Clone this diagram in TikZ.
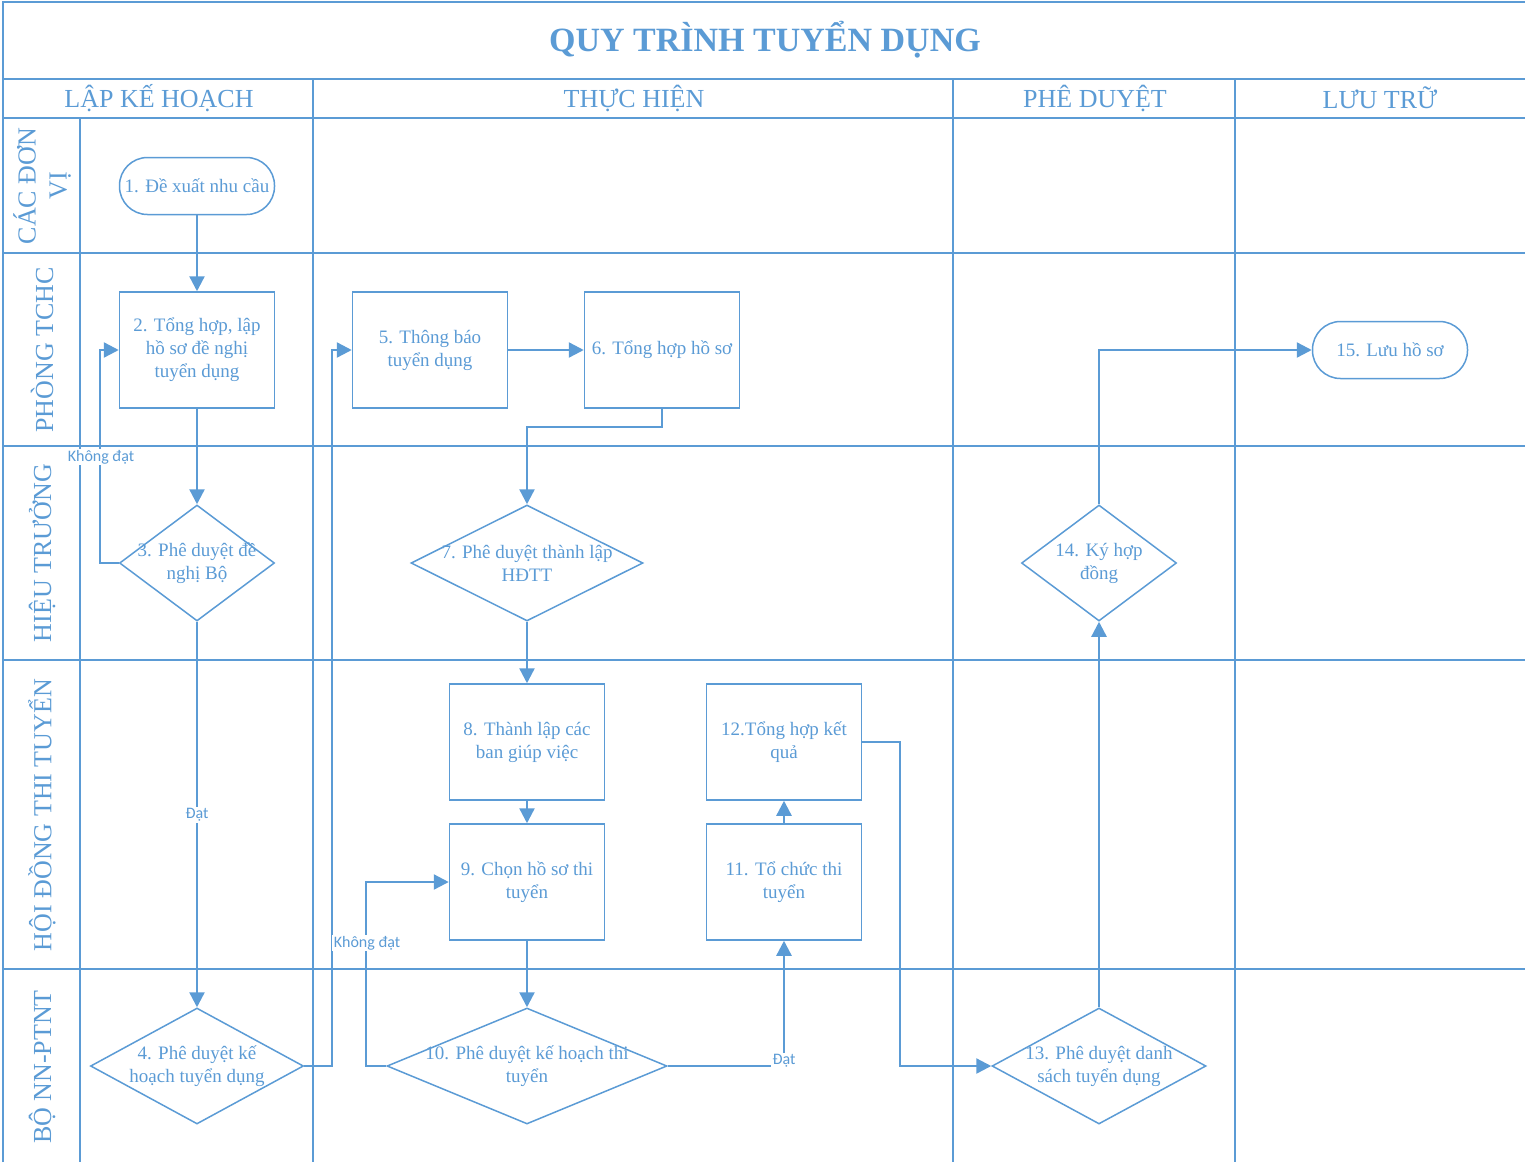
\documentclass[tikz,border=0pt]{standalone}
\usepackage{fontspec}
\setmainfont{Liberation Serif}
\newfontfamily\lblfont{Carlito}
\usetikzlibrary{arrows.meta,shapes.geometric}
\definecolor{vblue}{HTML}{5B9BD5}
\begin{document}
\begin{tikzpicture}[x=1pt,y=-1pt,
 lane/.style={draw=vblue,line width=1.8pt},
 box/.style={draw=vblue,line width=1.5pt,minimum width=155pt,minimum height=116pt,inner sep=0pt},
 term/.style={draw=vblue,line width=1.5pt,rounded corners=28pt,minimum width=155pt,minimum height=57pt,inner sep=0pt},
 dia/.style={draw=vblue,line width=1.5pt,diamond,inner sep=0pt},
 txt/.style={text=vblue,font=\fontsize{19}{23}\selectfont,align=center},
 conn/.style={draw=vblue,line width=2.4pt,-{Triangle[length=15pt,width=15pt]}},
 lbl/.style={fill=white,text=vblue,font=\lblfont\fontsize{16}{18}\selectfont,inner sep=1.5pt},
 head/.style={text=vblue,font=\fontsize{26}{31}\selectfont,align=center},
]
\useasboundingbox (0,0) rectangle (1525,1162);
% frame and lanes
\draw[lane] (3,1162) -- (3,2) -- (1525,2);
\foreach \yy in {79,118,253,446,660,969} \draw[lane] (3,\yy) -- (1525,\yy);
\draw[lane] (80,118) -- (80,1162);
\foreach \xx in {313,953,1235} \draw[lane] (\xx,79) -- (\xx,1162);
% title and headers
\node[text=vblue,font=\bfseries\fontsize{34}{40}\selectfont] (title) at (765,40) {QUY TRÌNH TUYỂN DỤNG};
\node[head] (h1) at (159,98) {LẬP KẾ HOẠCH};
\node[head] (h2) at (634,98) {THỰC HIỆN};
\node[head] (h3) at (1095,98) {PHÊ DUYỆT};
\node[head] (h4) at (1380,98) {LƯU TRỮ};
\node[head,rotate=90] (r1) at (42,186) {CÁC ĐƠN\\VỊ};
\node[head,rotate=90] (r2) at (42,350) {PHÒNG TCHC};
\node[head,rotate=90] (r3) at (42,553) {HIỆU TRƯỞNG};
\node[head,rotate=90] (r4) at (42,815) {HỘI ĐỒNG THI TUYỂN};
\node[head,rotate=90] (r5) at (42,1067) {BỘ NN-PTNT};
% shapes
\node[term] (n1) at (197,186) {};
\node[box] (n2) at (197,350) {};
\node[dia,minimum width=155pt,minimum height=116pt] (n3) at (197,563) {};
\node[dia,minimum width=213pt,minimum height=116pt] (n4) at (197,1066) {};
\node[box] (n5) at (430,350) {};
\node[box] (n6) at (662,350) {};
\node[dia,minimum width=232pt,minimum height=116pt] (n7) at (527,563) {};
\node[box] (n8) at (527,742) {};
\node[box] (n9) at (527,882) {};
\node[dia,minimum width=280pt,minimum height=116pt] (n10) at (527,1066) {};
\node[box] (n11) at (784,882) {};
\node[box] (n12) at (784,742) {};
\node[dia,minimum width=214pt,minimum height=116pt] (n13) at (1099,1066) {};
\node[dia,minimum width=155pt,minimum height=116pt] (n14) at (1099,563) {};
\node[term] (n15) at (1390,350) {};
% texts
\node[txt] (t1) at (n1) {1. Đề xuất nhu cầu};
\node[txt] (t2) at (n2) {2. Tổng hợp, lập\\hồ sơ đề nghị\\tuyển dụng};
\node[txt] (t3) at (n3) {3. Phê duyệt đề\\nghị Bộ};
\node[txt] (t4) at (n4) {4. Phê duyệt kế\\hoạch tuyển dụng};
\node[txt] (t5) at (n5) {5. Thông báo\\tuyển dụng};
\node[txt] (t6) at (n6) {6. Tổng hợp hồ sơ};
\node[txt] (t7) at (n7) {7. Phê duyệt thành lập\\HĐTT};
\node[txt] (t8) at (n8) {8. Thành lập các\\ban giúp việc};
\node[txt] (t9) at (n9) {9. Chọn hồ sơ thi\\tuyển};
\node[txt] (t10) at (n10) {10. Phê duyệt kế hoạch thi\\tuyển};
\node[txt] (t11) at (n11) {11. Tổ chức thi\\tuyển};
\node[txt] (t12) at (n12) {12.Tổng hợp kết\\quả};
\node[txt] (t13) at (n13) {13. Phê duyệt danh\\sách tuyển dụng};
\node[txt] (t14) at (n14) {14. Ký hợp\\đồng};
\node[txt] (t15) at (n15) {15. Lưu hồ sơ};
% connectors
\draw[conn] (n1.south) -- (n2.north);
\draw[conn] (n2.south) -- (n3.north);
\draw[conn] (n3.west) -- (100,563) |- (n2.west);
\draw[conn] (n3.south) -- (n4.north);
\draw[conn] (n4.east) -- (332,1066) |- (n5.west);
\draw[conn] (n5.east) -- (n6.west);
\draw[conn] (n6.south) -- (662,427) -| (n7.north);
\draw[conn] (n7.south) -- (n8.north);
\draw[conn] (n8.south) -- (n9.north);
\draw[conn] (n9.south) -- (n10.north);
\draw[conn] (n10.west) -- (366,1066) |- (n9.west);
\draw[conn] (n10.east) -| (n11.south);
\draw[conn] (n11.north) -- (n12.south);
\draw[conn] (n12.east) -- (900,742) |- (n13.west);
\draw[conn] (n13.north) -- (n14.south);
\draw[conn] (n14.north) |- (n15.west);
% labels
\node[lbl] (l1) at (101,457) {Không đạt};
\node[lbl] (l2) at (197,815) {Đạt};
\node[lbl] (l3) at (367,943) {Không đạt};
\node[lbl] (l4) at (784,1061) {Đạt};
\end{tikzpicture}
\end{document}
